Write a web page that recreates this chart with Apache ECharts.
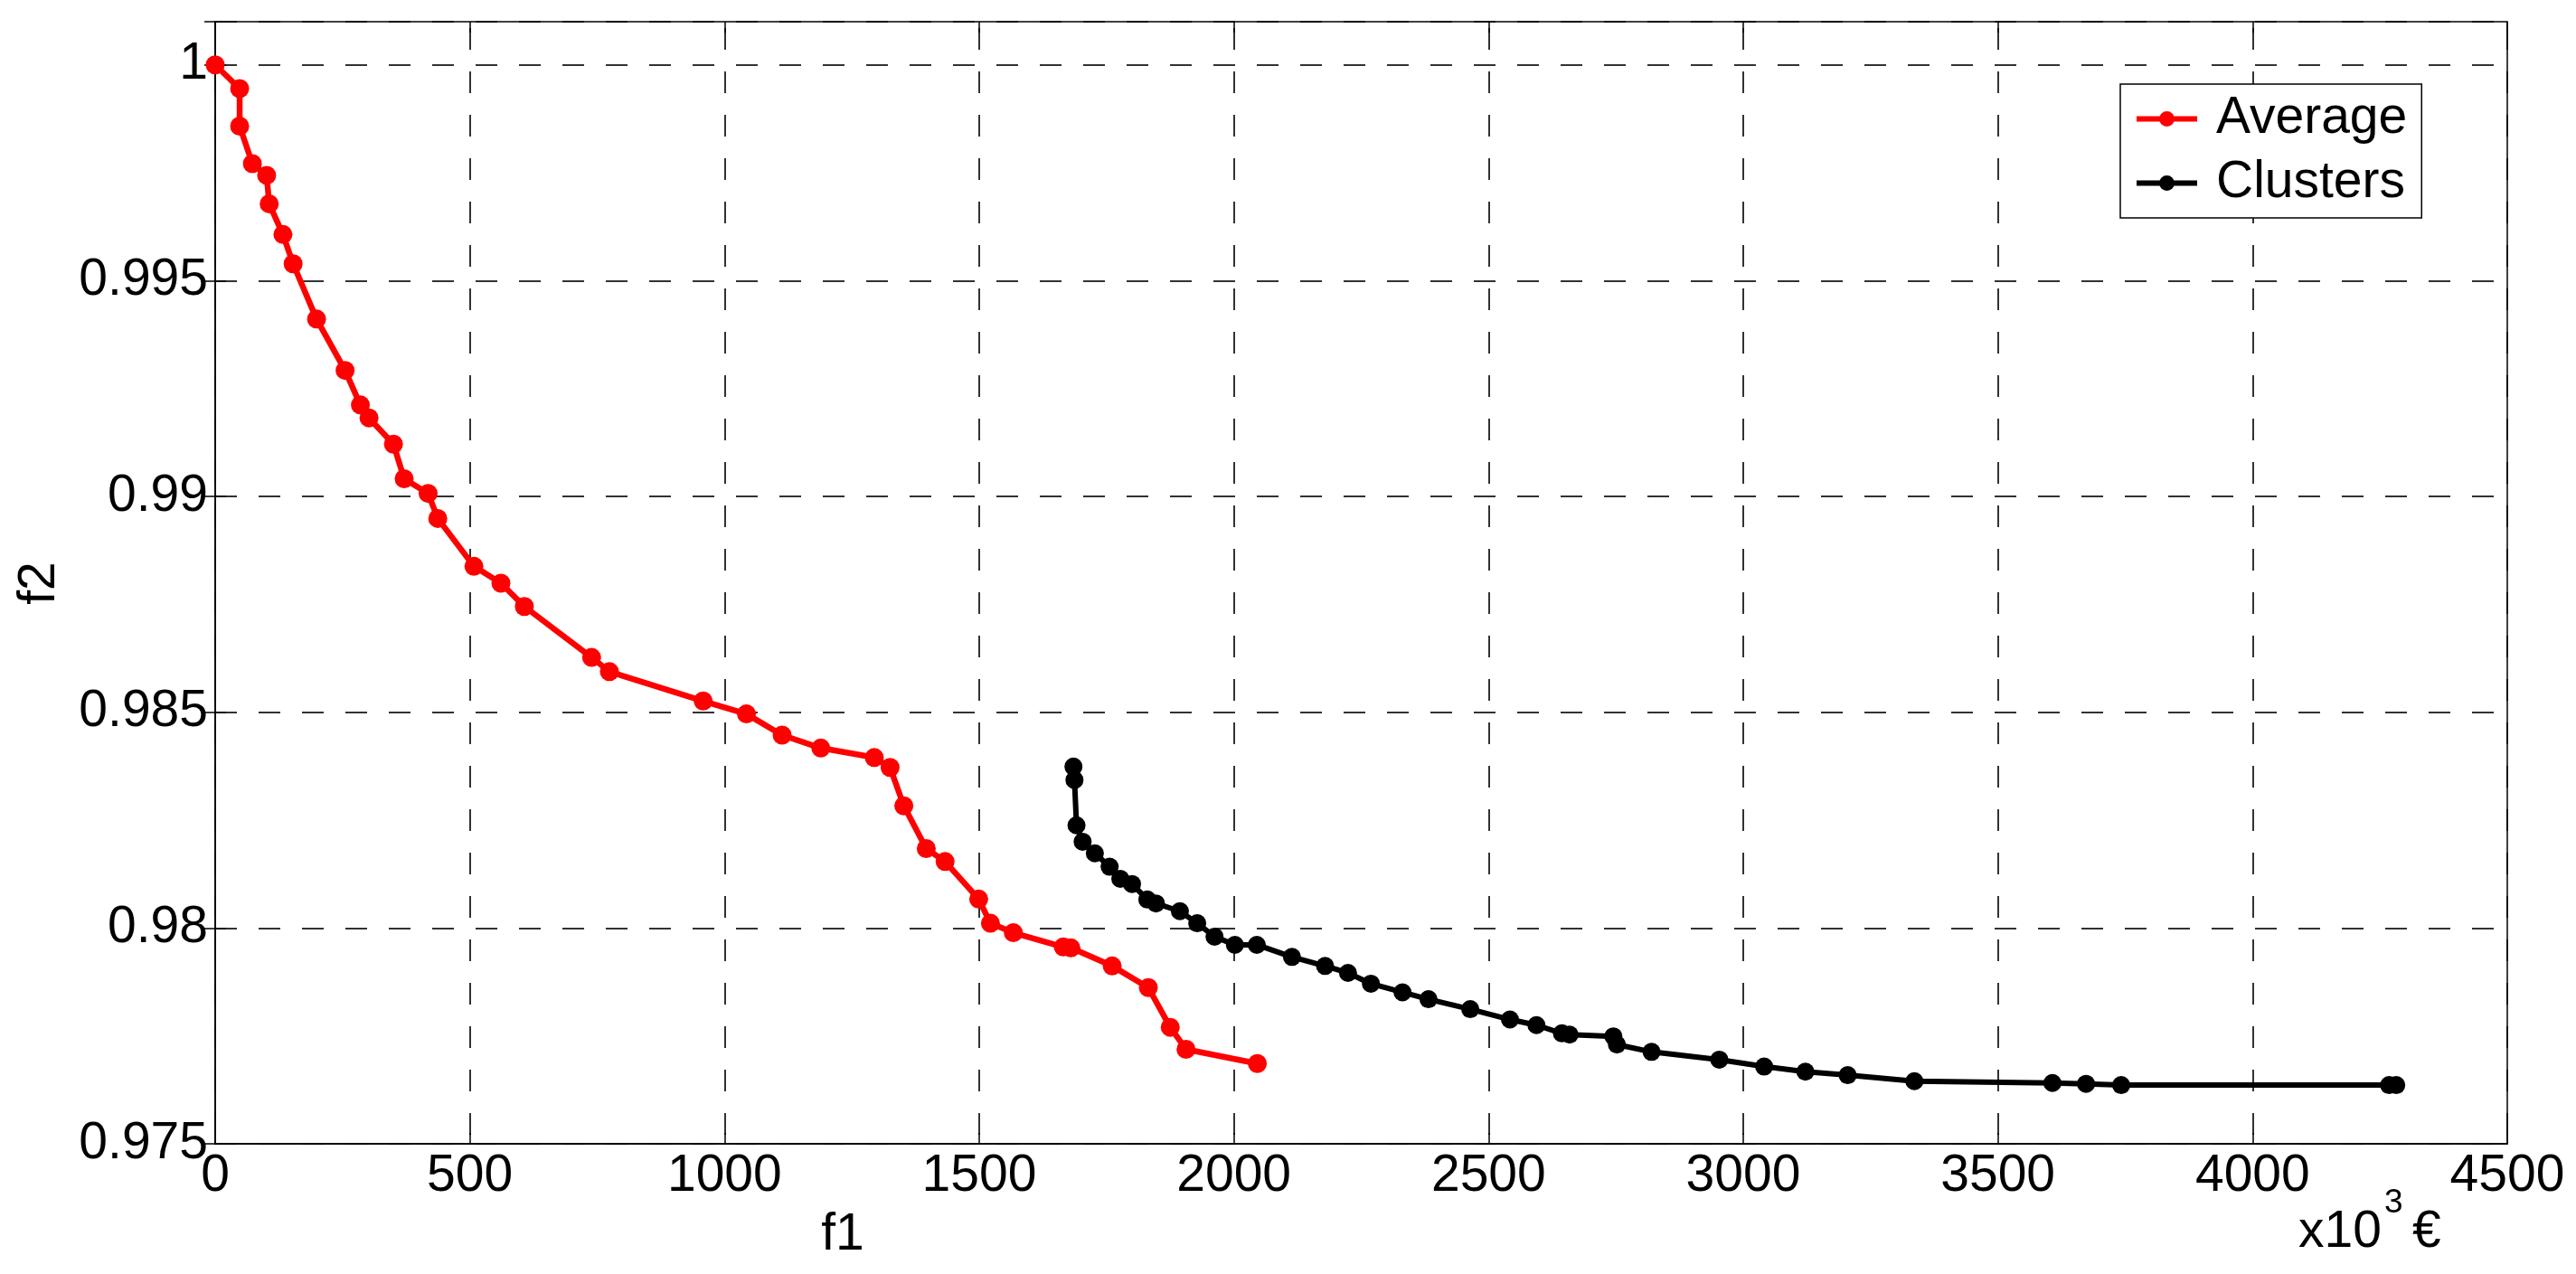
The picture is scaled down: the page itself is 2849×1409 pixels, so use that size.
<!DOCTYPE html>
<html>
<head>
<meta charset="utf-8">
<style>
  html, body { margin: 0; padding: 0; background: #fff; }
  #chart { width: 2849px; height: 1409px; }
</style>
<script src="https://cdn.jsdelivr.net/npm/echarts@6/dist/echarts.min.js"></script>
</head>
<body>
<div id="chart"></div>
<script>
// Pareto fronts: f1 (x10^3 EUR) against f2.
const avgF1 = [0, 48, 48, 73, 101, 106, 133, 153, 199, 255, 285, 302, 350, 371, 418, 437,
  508, 561, 607, 739, 774, 958, 1043, 1113, 1189, 1294, 1325, 1352, 1396, 1433, 1499,
  1522, 1567, 1665, 1680, 1761, 1832, 1875, 1906, 2046];
const avgF2 = [1.0, 0.99945, 0.99858, 0.99771, 0.99744, 0.99678, 0.99607, 0.99539, 0.99411,
  0.99292, 0.99212, 0.99182, 0.99121, 0.99041, 0.99007, 0.98949, 0.98838, 0.98799, 0.98745,
  0.98627, 0.98594, 0.98526, 0.98496, 0.98447, 0.98417, 0.98395, 0.98372, 0.98283, 0.98184,
  0.98154, 0.98067, 0.98011, 0.97989, 0.97956, 0.97954, 0.97912, 0.97862, 0.97770, 0.97719,
  0.97686];

const cluF1 = [1685, 1687, 1691, 1703, 1727, 1756, 1777, 1800, 1830, 1847, 1894, 1928, 1962,
  2002, 2045, 2114, 2179, 2224, 2269, 2331, 2382, 2464, 2542, 2594, 2644, 2659, 2745, 2752,
  2820, 2953, 3041, 3122, 3205, 3336, 3607, 3673, 3742, 4268, 4282];
const cluF2 = [0.98374, 0.98343, 0.98238, 0.98200, 0.98173, 0.98142, 0.98114, 0.98102,
  0.98066, 0.98057, 0.98039, 0.98011, 0.97980, 0.97961, 0.97961, 0.97933, 0.97912, 0.97896,
  0.97871, 0.97851, 0.97835, 0.97812, 0.97788, 0.97775, 0.97756, 0.97753, 0.97749, 0.97730,
  0.97713, 0.97695, 0.97679, 0.97667, 0.97659, 0.97645, 0.97641, 0.97639, 0.97636, 0.97636,
  0.97636];

const seriesNames = ['Average', 'Clusters'];
const xTicks = { min: 0, max: 4500, interval: 500 };
const yTicks = { min: 0.975, max: 1.001, interval: 0.005 };

const FONT = '"Liberation Sans", Arial, Helvetica, sans-serif';
const FS = 57;

function pairs(xs, ys) {
  return xs.map((x, i) => [x, ys[i]]);
}

const chart = echarts.init(document.getElementById('chart'), null, { renderer: 'canvas' });

// MATLAB-style dashed grid; vertical dashes are phased from the bottom edge
const hDash = { color: '#000', width: 1.6, type: [24, 24] };
const vDash = { color: '#000', width: 1.6, type: [24, 24], dashOffset: 41 };

// mirrored inside ticks, as on a boxed MATLAB axes
function tickOnly(base, pos) {
  return Object.assign({}, base, {
    position: pos,
    axisLine: { show: false },
    axisTick: { show: true, inside: true, length: 12, lineStyle: { color: '#000', width: 1.5 } },
    axisLabel: { show: false },
    splitLine: { show: false },
  });
}

const xBase = { type: 'value', min: xTicks.min, max: xTicks.max, interval: xTicks.interval };
const yBase = { type: 'value', min: yTicks.min, max: yTicks.max, interval: yTicks.interval };

chart.setOption({
  animation: false,
  backgroundColor: '#fff',
  textStyle: { fontFamily: FONT, color: '#000' },
  grid: {
    left: 238, right: 76, top: 24, bottom: 144,
    show: true, borderColor: '#000', borderWidth: 1.5, backgroundColor: '#fff',
  },
  legend: {
    data: seriesNames,
    orient: 'vertical',
    left: 2345, top: 93,
    padding: [10, 16, 10, 15],
    itemWidth: 67, itemHeight: 21,
    itemGap: 14,
    backgroundColor: '#fff',
    borderColor: '#000', borderWidth: 1.5,
    lineStyle: { width: 6 },
    textStyle: { fontFamily: FONT, fontSize: FS, color: '#000', lineHeight: 57, padding: [0, 0, 0, 16] },
  },
  xAxis: [
    Object.assign({}, xBase, {
      position: 'bottom',
      axisLine: { show: true, lineStyle: { color: '#000', width: 1.5 } },
      axisTick: { show: true, inside: true, length: 12, lineStyle: { color: '#000', width: 1.5 } },
      axisLabel: {
        fontFamily: FONT, fontSize: FS, color: '#000', margin: 8,
        formatter: v => String(v),
      },
      splitLine: { show: true, lineStyle: vDash },
    }),
    tickOnly(xBase, 'top'),
  ],
  yAxis: [
    Object.assign({}, yBase, {
      position: 'left',
      axisLine: { show: true, lineStyle: { color: '#000', width: 1.5 } },
      axisTick: { show: true, inside: true, length: 12, lineStyle: { color: '#000', width: 1.5 } },
      axisLabel: {
        fontFamily: FONT, fontSize: FS, color: '#000', margin: 8,
        showMaxLabel: false,
        formatter: v => String(+v.toFixed(3)),
      },
      splitLine: { show: true, lineStyle: hDash },
    }),
    tickOnly(yBase, 'right'),
  ],
  graphic: [
    { type: 'text', x: 932, y: 1366, style: { text: 'f1', font: FS + 'px ' + FONT, fill: '#000', align: 'center', verticalAlign: 'middle' } },
    { type: 'text', x: 44, y: 645, rotation: Math.PI / 2, style: { text: 'f2', font: FS + 'px ' + FONT, fill: '#000', align: 'center', verticalAlign: 'middle' } },
    { type: 'text', x: 2542, y: 1363, style: { text: 'x10', font: FS + 'px ' + FONT, fill: '#000', align: 'left', verticalAlign: 'middle' } },
    { type: 'text', x: 2637, y: 1331, style: { text: '3', font: '37px ' + FONT, fill: '#000', align: 'left', verticalAlign: 'middle' } },
    { type: 'text', x: 2668, y: 1363, style: { text: '€', font: FS + 'px ' + FONT, fill: '#000', align: 'left', verticalAlign: 'middle' } },
  ],
  series: [
    {
      name: seriesNames[0],
      type: 'line',
      xAxisIndex: 0, yAxisIndex: 0,
      data: pairs(avgF1, avgF2),
      symbol: 'circle', symbolSize: 21, showSymbol: true,
      lineStyle: { color: '#ff0000', width: 6.5 },
      itemStyle: { color: '#ff0000' },
      z: 5,
    },
    {
      name: seriesNames[1],
      type: 'line',
      xAxisIndex: 0, yAxisIndex: 0,
      data: pairs(cluF1, cluF2),
      symbol: 'circle', symbolSize: 20, showSymbol: true,
      lineStyle: { color: '#000000', width: 6 },
      itemStyle: { color: '#000000' },
      z: 5,
    },
  ],
});
</script>
</body>
</html>
